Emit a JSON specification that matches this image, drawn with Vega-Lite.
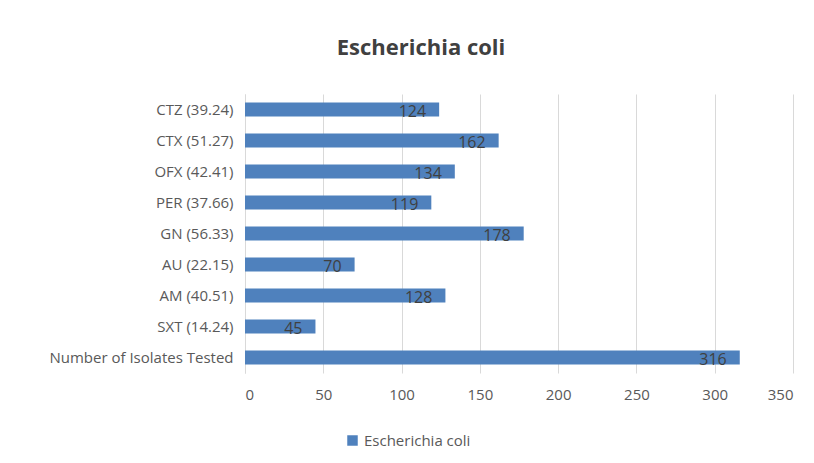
{
  "$schema": "https://vega.github.io/schema/vega-lite/v6.json",
  "width": 548,
  "height": 279,
  "padding": {"left": 48, "top": 37, "right": 20, "bottom": 10},
  "background": "white",
  "title": {
    "text": "Escherichia coli",
    "font": "Open Sans",
    "fontSize": 22,
    "fontWeight": "bold",
    "color": "#404040",
    "anchor": "middle",
    "frame": "bounds",
    "offset": 34
  },
  "data": {
    "values": [
      {"category": "CTZ (39.24)", "value": 124, "series": "Escherichia coli"},
      {"category": "CTX (51.27)", "value": 162, "series": "Escherichia coli"},
      {"category": "OFX (42.41)", "value": 134, "series": "Escherichia coli"},
      {"category": "PER (37.66)", "value": 119, "series": "Escherichia coli"},
      {"category": "GN (56.33)", "value": 178, "series": "Escherichia coli"},
      {"category": "AU (22.15)", "value": 70, "series": "Escherichia coli"},
      {"category": "AM (40.51)", "value": 128, "series": "Escherichia coli"},
      {"category": "SXT (14.24)", "value": 45, "series": "Escherichia coli"},
      {"category": "Number of Isolates Tested", "value": 316, "series": "Escherichia coli"}
    ]
  },
  "encoding": {
    "y": {
      "field": "category",
      "type": "nominal",
      "sort": null,
      "scale": {"paddingInner": 0.55, "paddingOuter": 0.275},
      "axis": {
        "title": null,
        "ticks": false,
        "domainColor": "#d9d9d9",
        "labelFont": "Open Sans",
        "labelFontSize": 15,
        "labelColor": "#595959",
        "labelPadding": 12,
        "labelLimit": 300
      }
    },
    "x": {
      "field": "value",
      "type": "quantitative",
      "scale": {"domain": [0, 350], "nice": false},
      "axis": {
        "title": null,
        "values": [0, 50, 100, 150, 200, 250, 300, 350],
        "domain": false,
        "ticks": false,
        "gridColor": "#d9d9d9",
        "labelFont": "Open Sans",
        "labelFontSize": 15,
        "labelColor": "#595959",
        "labelPadding": 14
      }
    }
  },
  "layer": [
    {
      "mark": {"type": "bar"},
      "encoding": {
        "color": {
          "field": "series",
          "type": "nominal",
          "scale": {"range": ["#4F81BD"]},
          "legend": {
            "title": null,
            "orient": "none",
            "legendX": 100,
            "legendY": 339,
            "direction": "horizontal",
            "symbolType": "square",
            "symbolSize": 110,
            "labelFont": "Open Sans",
            "labelFontSize": 15,
            "labelColor": "#595959"
          }
        }
      }
    },
    {
      "mark": {"type": "text", "align": "right", "baseline": "middle", "dx": -13, "dy": 2, "font": "Open Sans", "fontSize": 16, "color": "#404040"},
      "encoding": {"text": {"field": "value", "type": "quantitative"}}
    }
  ],
  "config": {"view": {"stroke": null}}
}
